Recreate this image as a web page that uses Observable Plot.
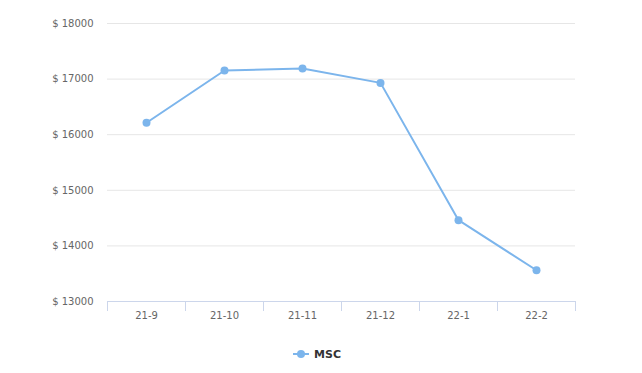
<!DOCTYPE html>
<html>
<head>
<meta charset="utf-8">
<script src="https://cdn.jsdelivr.net/npm/d3@7"></script>
<script src="https://cdn.jsdelivr.net/npm/@observablehq/plot@0.6"></script>
<style>
  html, body { margin: 0; padding: 0; background: #fff; }
  #chart { width: 642px; }
  .legend { display: flex; justify-content: center; align-items: center; height: 20px; margin-top: 4px;
    font-family: "DejaVu Sans", sans-serif; font-size: 11px; font-weight: bold; color: #333; padding-right: 8px; }
  .legend svg { margin-right: 5px; }
</style>
</head>
<body>
<div id="chart"></div>
<script>
const categories = ["21-9", "21-10", "21-11", "21-12", "22-1", "22-2"];
const values = [16215, 17155, 17190, 16932, 14462, 13562];
const yTicks = [13000, 14000, 15000, 16000, 17000, 18000];
const seriesName = "MSC";
const color = "#7cb5ec";

const data = categories.map((c, i) => ({ cat: c, value: values[i] }));

const W = 642, ML = 107, MR = 67;
const bw = (W - ML - MR) / categories.length;

const plot = Plot.plot({
  width: W,
  height: 340,
  marginLeft: ML,
  marginRight: MR,
  marginTop: 23,
  marginBottom: 39,
  style: { fontFamily: "DejaVu Sans, sans-serif", fontSize: "10px", background: "#fff" },
  x: { type: "band", domain: categories, padding: 0, label: null },
  y: { domain: [13000, 18000], label: null },
  marks: [
    Plot.ruleY(yTicks.slice(1), { stroke: "#e6e6e6", strokeWidth: 1 }),
    Plot.ruleY([13000], { stroke: "#ccd6eb", strokeWidth: 1 }),
    Plot.ruleX(categories, { x: d => d, y1: 13000, y2: 13000, insetBottom: -10, dx: -bw / 2, stroke: "#ccd6eb" }),
    Plot.ruleX([categories[categories.length - 1]], { x: d => d, y1: 13000, y2: 13000, insetBottom: -10, dx: bw / 2, stroke: "#ccd6eb" }),
    Plot.axisY({ ticks: yTicks, tickSize: 0, tickPadding: 14, tickFormat: d => "$ " + d, fill: "#666", fontSize: 10 }),
    Plot.axisX({ tickSize: 0, tickPadding: 10, fill: "#666", fontSize: 10 }),
    Plot.line(data, { x: "cat", y: "value", stroke: color, strokeWidth: 2 }),
    Plot.dot(data, { x: "cat", y: "value", r: 4, fill: color, stroke: "none" })
  ]
});
document.getElementById("chart").appendChild(plot);

const legend = document.createElement("div");
legend.className = "legend";
legend.innerHTML = `<svg width="16" height="10"><line x1="0" y1="5" x2="16" y2="5" stroke="${color}" stroke-width="2"/><circle cx="8" cy="5" r="4" fill="${color}"/></svg><span>${seriesName}</span>`;
document.getElementById("chart").appendChild(legend);
</script>
</body>
</html>
